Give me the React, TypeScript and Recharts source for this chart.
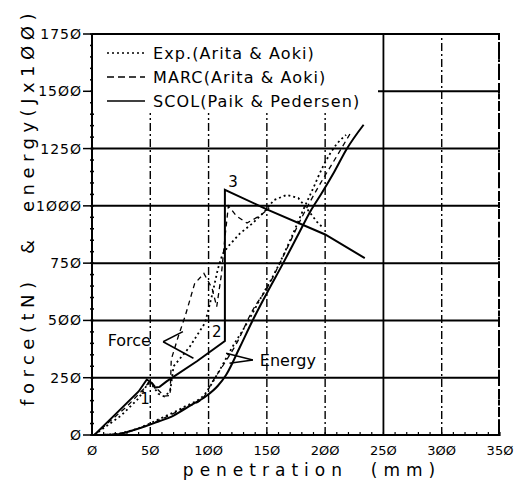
import { LineChart, Line, XAxis, YAxis, CartesianGrid, ReferenceLine, ReferenceDot, Legend } from 'recharts';

// axis ticks (mm and tN / Jx100)
const xTicks = [0, 50, 100, 150, 200, 250, 300, 350];
const xMinorTicks = [0, 10, 20, 30, 40, 50, 60, 70, 80, 90, 100, 110, 120, 130, 140, 150, 160, 170, 180, 190, 200, 210, 220, 230, 240, 250, 260, 270, 280, 290, 300, 310, 320, 330, 340, 350];
const yTicks = [0, 250, 500, 750, 1000, 1250, 1500, 1750];
const yMinorTicks = [0, 50, 100, 150, 200, 250, 300, 350, 400, 450, 500, 550, 600, 650, 700, 750, 800, 850, 900, 950, 1000, 1050, 1100, 1150, 1200, 1250, 1300, 1350, 1400, 1450, 1500, 1550, 1600, 1650, 1700, 1750];

// SCOL (Paik & Pedersen)
const scolForce = [
    { x: 2, y: 0 }, { x: 20, y: 90 }, { x: 40, y: 190 }, { x: 47, y: 242 }, { x: 51, y: 228 },
    { x: 54, y: 207 }, { x: 58, y: 210 }, { x: 64, y: 234 }, { x: 90, y: 322 }, { x: 114, y: 410 },
    { x: 114, y: 1070 }, { x: 150, y: 985 }, { x: 200, y: 875 }, { x: 234, y: 772 },
];
const scolEnergy = [
    { x: 2, y: 0 }, { x: 20, y: 2 }, { x: 38, y: 25 }, { x: 55, y: 55 }, { x: 70, y: 85 },
    { x: 85, y: 130 }, { x: 98, y: 170 }, { x: 108, y: 215 }, { x: 115, y: 262 }, { x: 127, y: 385 },
    { x: 138, y: 502 }, { x: 150, y: 619 }, { x: 164, y: 750 }, { x: 176, y: 866 }, { x: 188, y: 982 },
    { x: 197, y: 1055 }, { x: 208, y: 1150 }, { x: 218, y: 1244 }, { x: 233, y: 1354 },
];

// Exp. (Arita & Aoki)
const expForce = [
    { x: 2, y: 0 }, { x: 10, y: 30 }, { x: 25, y: 85 }, { x: 40, y: 160 }, { x: 48, y: 225 },
    { x: 52, y: 215 }, { x: 57, y: 180 }, { x: 62, y: 168 }, { x: 67, y: 190 }, { x: 70, y: 300 },
    { x: 84, y: 386 }, { x: 97, y: 490 }, { x: 103, y: 610 }, { x: 108, y: 725 }, { x: 112, y: 790 },
    { x: 118, y: 830 }, { x: 127, y: 880 }, { x: 138, y: 925 }, { x: 148, y: 975 }, { x: 156, y: 1025 },
    { x: 167, y: 1048 }, { x: 177, y: 1034 }, { x: 184, y: 990 }, { x: 193, y: 930 }, { x: 198, y: 905 },
];
const expEnergy = [
    { x: 2, y: 0 }, { x: 20, y: 4 }, { x: 40, y: 30 }, { x: 60, y: 75 }, { x: 80, y: 125 },
    { x: 97, y: 180 }, { x: 108, y: 270 }, { x: 120, y: 380 }, { x: 132, y: 480 }, { x: 145, y: 600 },
    { x: 158, y: 720 }, { x: 170, y: 850 }, { x: 181, y: 980 }, { x: 190, y: 1080 }, { x: 198, y: 1170 },
    { x: 210, y: 1270 }, { x: 218, y: 1310 },
];

// MARC (Arita & Aoki)
const marcForce = [
    { x: 2, y: 0 }, { x: 12, y: 45 }, { x: 30, y: 125 }, { x: 45, y: 205 }, { x: 50, y: 238 },
    { x: 56, y: 200 }, { x: 62, y: 170 }, { x: 67, y: 172 }, { x: 68, y: 330 }, { x: 74, y: 430 },
    { x: 80, y: 520 }, { x: 88, y: 660 }, { x: 96, y: 705 }, { x: 103, y: 640 }, { x: 107, y: 560 },
    { x: 111, y: 700 }, { x: 114, y: 860 }, { x: 117, y: 1000 }, { x: 124, y: 955 }, { x: 133, y: 925 },
    { x: 145, y: 960 }, { x: 152, y: 990 },
];
const marcEnergy = [
    { x: 2, y: 0 }, { x: 20, y: 5 }, { x: 40, y: 28 }, { x: 60, y: 70 }, { x: 80, y: 120 },
    { x: 95, y: 160 }, { x: 103, y: 230 }, { x: 112, y: 300 }, { x: 124, y: 400 }, { x: 138, y: 546 },
    { x: 150, y: 640 }, { x: 165, y: 790 }, { x: 180, y: 950 }, { x: 195, y: 1090 }, { x: 208, y: 1200 },
    { x: 222, y: 1320 },
];

const legendItems = [
    { name: 'Exp.(Arita & Aoki)', dash: '2 3' },
    { name: 'MARC(Arita & Aoki)', dash: '7 4' },
    { name: 'SCOL(Paik & Pedersen)', dash: '' },
];

const FONT = '"DejaVu Sans", sans-serif';

const fmt = (v: number) => String(v).replace(/0/g, 'Ø');

const YTick = ({ x, y, payload }: any) => {
    const major = payload.value % 250 === 0;
    return (
        <g>
            <line x1={x - 2} x2={x + 2} y1={y} y2={y} stroke="#000" strokeWidth={1.5} />
            {major && <line x1={x - 9} x2={x} y1={y} y2={y} stroke="#000" strokeWidth={1.5} />}
            {major && (
                <text x={x - 10} y={y + 5} textAnchor="end" fontSize={14} fontFamily={FONT} letterSpacing={1} fill="#000">
                    {fmt(payload.value)}
                </text>
            )}
        </g>
    );
};

// bottom tick: small mark, label on the 50 mm steps; the 350 tick also draws the plot's right frame
const XTick = ({ x, y, payload }: any) => {
    const major = payload.value % 50 === 0;
    return (
        <g>
            <line x1={x} x2={x} y1={y - 3} y2={y + 1} stroke="#000" strokeWidth={1.2} />
            {payload.value === 350 && (
                <line x1={x - 1} x2={x - 1} y1={y} y2={34} stroke="#000" strokeWidth={2} strokeDasharray="10 3 2 3" />
            )}
            {major && (
                <text x={x} y={y + 20} textAnchor="middle" fontSize={13} fontFamily={FONT} fill="#000">
                    {fmt(payload.value)}
                </text>
            )}
        </g>
    );
};

const LegendBox = () => (
    <svg width={285} height={78}>
        {legendItems.map((item, i) => (
            <g key={item.name}>
                <line x1={14} x2={52} y1={18 + i * 24} y2={18 + i * 24} stroke="#000" strokeWidth={1.6} strokeDasharray={item.dash} />
                <text x={60} y={24 + i * 24} fontSize={16} fontFamily={FONT} letterSpacing={1.1} fill="#000">
                    {item.name}
                </text>
            </g>
        ))}
    </svg>
);

const App = () => {
    return (
        <div style={{ position: 'absolute', left: 0, top: 0, width: 518, height: 489, background: '#fff' }}>
            <LineChart width={518} height={489} margin={{ top: 34, right: 18, bottom: 0, left: 0 }}>
                <CartesianGrid vertical={false} stroke="#000" strokeWidth={2} horizontalValues={yTicks} />
                {xTicks.slice(1, -1).map(v => (
                    <ReferenceLine key={v} x={v} stroke="#000" strokeWidth={v === 250 ? 1.8 : 1.4}
                        strokeDasharray={v === 250 ? undefined : '8 3 2 3'} />
                ))}
                <XAxis type="number" dataKey="x" domain={[0, 350]} ticks={xMinorTicks} interval={0}
                    height={54} stroke="#000" strokeWidth={2} tickLine={false} tickSize={0} tickMargin={0} tick={<XTick />} />
                <YAxis type="number" dataKey="y" domain={[0, 1750]} ticks={yMinorTicks} interval={0}
                    width={92} stroke="#000" strokeWidth={2} tickLine={false} tickSize={0} tickMargin={0} tick={<YTick />} />
                <Legend layout="horizontal" verticalAlign="middle" align="center" content={<LegendBox />}
                    wrapperStyle={{ position: 'absolute', left: 93, top: 35, width: 285, height: 78, background: '#fff' }} />

                <Line data={expForce} dataKey="y" type="linear" stroke="#000" strokeWidth={1.8} strokeDasharray="2 3" dot={false} isAnimationActive={false} legendType="none" />
                <Line data={expEnergy} dataKey="y" type="monotone" stroke="#000" strokeWidth={1.8} strokeDasharray="2 3" dot={false} isAnimationActive={false} legendType="none" />
                <Line data={marcForce} dataKey="y" type="linear" stroke="#000" strokeWidth={1.3} strokeDasharray="5 4" dot={false} isAnimationActive={false} legendType="none" />
                <Line data={marcEnergy} dataKey="y" type="monotone" stroke="#000" strokeWidth={1.3} strokeDasharray="5 4" dot={false} isAnimationActive={false} legendType="none" />
                <Line data={scolForce} dataKey="y" type="linear" stroke="#000" strokeWidth={2} dot={false} isAnimationActive={false} legendType="none" />
                <Line data={scolEnergy} dataKey="y" type="monotone" stroke="#000" strokeWidth={2} dot={false} isAnimationActive={false} legendType="none" />

                {/* annotations */}
                <ReferenceLine segment={[{ x: 61, y: 407 }, { x: 78, y: 451 }]} stroke="#000" strokeWidth={1.5} />
                <ReferenceLine segment={[{ x: 61, y: 407 }, { x: 87, y: 335 }]} stroke="#000" strokeWidth={1.5} />
                <ReferenceLine segment={[{ x: 138, y: 327 }, { x: 115, y: 357 }]} stroke="#000" strokeWidth={1.5} />
                <ReferenceLine segment={[{ x: 138, y: 327 }, { x: 118, y: 313 }]} stroke="#000" strokeWidth={1.5} />
                <ReferenceDot x={32} y={415} r={0} stroke="none" label={{ value: 'Force', position: 'center', fontSize: 16, fontFamily: FONT, fill: '#000' }} />
                <ReferenceDot x={168} y={327} r={0} stroke="none" label={{ value: 'Energy', position: 'center', fontSize: 16, fontFamily: FONT, fill: '#000' }} />
                <ReferenceDot x={45.5} y={158} r={0} stroke="none" label={{ value: '1', position: 'center', fontSize: 15, fontFamily: FONT, fill: '#000' }} />
                <ReferenceDot x={107} y={451} r={0} stroke="none" label={{ value: '2', position: 'center', fontSize: 15, fontFamily: FONT, fill: '#000' }} />
                <ReferenceDot x={121} y={1105} r={0} stroke="none" label={{ value: '3', position: 'center', fontSize: 15, fontFamily: FONT, fill: '#000' }} />
            </LineChart>
            {/* right frame of the plot area */}
            <div style={{ position: 'absolute', left: 498, top: 34, width: 0, height: 401, borderLeft: '2px dashed #000', pointerEvents: 'none' }} />
            <div style={{ position: 'absolute', left: 27, top: 207, transform: 'translate(-50%, -50%) rotate(-90deg)', whiteSpace: 'pre', fontFamily: FONT, fontSize: 18, letterSpacing: 5.5 }}>
                {'force(tN)  &  energy(Jx1ØØ)'}
            </div>
            <div style={{ position: 'absolute', left: 312, top: 470, transform: 'translate(-50%, -50%)', whiteSpace: 'pre', fontFamily: FONT, fontSize: 17, letterSpacing: 6 }}>
                {'penetration  (mm)'}
            </div>
        </div>
    );
};

export default App;
